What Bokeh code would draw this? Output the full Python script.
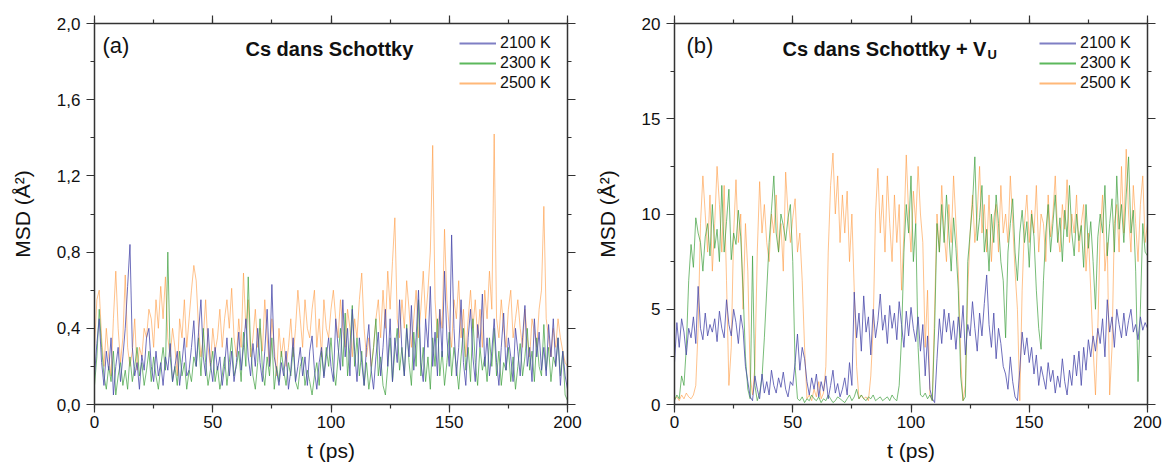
from bokeh.plotting import figure
from bokeh.layouts import row
from bokeh.models import (Range1d, LinearAxis, SingleIntervalTicker, CustomJSTickFormatter,
                          Legend, LegendItem, Label)
from bokeh.embed import file_html
from bokeh.resources import INLINE

t = list(range(0, 201))

labels = ["2100 K", "2300 K", "2500 K"]
colors = ["#4b4bab", "#3fa03f", "#ff9a40"]
legend_colors = ["#7f7fc4", "#5cb85c", "#ffb878"]

# Panel (a): Cs dans Schottky
a_2100 = [0.15, 0.32, 0.45, 0.22, 0.10, 0.28, 0.18, 0.35, 0.05, 0.20,
          0.30, 0.12, 0.25, 0.40, 0.62, 0.84, 0.30, 0.15, 0.22, 0.08,
          0.26, 0.18, 0.35, 0.40, 0.20, 0.12, 0.28, 0.15, 0.22, 0.10,
          0.25, 0.18, 0.32, 0.12, 0.20, 0.28, 0.10, 0.22, 0.35, 0.15,
          0.18, 0.30, 0.44, 0.20, 0.38, 0.55, 0.25, 0.15, 0.40, 0.22,
          0.12, 0.30, 0.18, 0.25, 0.10, 0.20, 0.35, 0.15, 0.28, 0.12,
          0.22, 0.38, 0.18, 0.30, 0.45, 0.25, 0.15, 0.32, 0.20, 0.40,
          0.22, 0.12, 0.28, 0.50, 0.20, 0.63, 0.25, 0.18, 0.10, 0.22,
          0.15, 0.28, 0.08, 0.18, 0.35, 0.12, 0.20, 0.30, 0.15, 0.25,
          0.10, 0.28, 0.36, 0.18, 0.08, 0.22, 0.30, 0.14, 0.25, 0.35,
          0.20, 0.12, 0.45, 0.30, 0.18, 0.55, 0.25, 0.40, 0.15, 0.50,
          0.28, 0.12, 0.35, 0.22, 0.10, 0.30, 0.42, 0.18, 0.08, 0.25,
          0.38, 0.15, 0.30, 0.50, 0.20, 0.45, 0.12, 0.35, 0.22, 0.55,
          0.28, 0.15, 0.40, 0.25, 0.52, 0.18, 0.35, 0.60, 0.22, 0.12,
          0.45, 0.30, 0.62, 0.20, 0.38, 0.15, 0.50, 0.25, 0.70, 0.35,
          0.20, 0.89, 0.40, 0.15, 0.30, 0.55, 0.22, 0.10, 0.35, 0.50,
          0.25, 0.12, 0.42, 0.30, 0.58, 0.20, 0.35, 0.15, 0.28, 0.45,
          0.22, 0.10, 0.30, 0.48, 0.18, 0.35, 0.25, 0.12, 0.40, 0.28,
          0.15, 0.35, 0.52, 0.20, 0.30, 0.12, 0.45, 0.25, 0.38, 0.18,
          0.30, 0.15, 0.42, 0.25, 0.45, 0.20, 0.35, 0.10, 0.28, 0.15,
          0.08]
a_2300 = [0.10, 0.25, 0.50, 0.30, 0.15, 0.08, 0.20, 0.12, 0.28, 0.05,
          0.15, 0.22, 0.10, 0.18, 0.08, 0.25, 0.12, 0.20, 0.30, 0.15,
          0.22, 0.10, 0.18, 0.28, 0.12, 0.25, 0.15, 0.08, 0.20, 0.30,
          0.18, 0.80, 0.25, 0.12, 0.20, 0.10, 0.28, 0.15, 0.22, 0.08,
          0.18, 0.12, 0.25, 0.20, 0.35, 0.15, 0.40, 0.22, 0.10, 0.18,
          0.28, 0.12, 0.20, 0.08, 0.15, 0.25, 0.10, 0.22, 0.35, 0.15,
          0.20, 0.28, 0.12, 0.38, 0.20, 0.67, 0.30, 0.15, 0.08, 0.22,
          0.45, 0.18, 0.10, 0.25, 0.15, 0.35, 0.08, 0.20, 0.12, 0.28,
          0.18, 0.10, 0.22, 0.15, 0.30, 0.12, 0.08, 0.20, 0.25, 0.10,
          0.18, 0.12, 0.05, 0.15, 0.22, 0.10, 0.28, 0.15, 0.30, 0.20,
          0.35, 0.18, 0.10, 0.25, 0.40, 0.20, 0.48, 0.15, 0.30, 0.52,
          0.20, 0.35, 0.15, 0.28, 0.10, 0.22, 0.08, 0.18, 0.30, 0.45,
          0.15, 0.25, 0.10, 0.05, 0.20, 0.35, 0.12, 0.28, 0.40, 0.18,
          0.30, 0.15, 0.42, 0.22, 0.10, 0.38, 0.20, 0.55, 0.15, 0.30,
          0.12, 0.25, 0.08, 0.35, 0.20, 0.45, 0.15, 0.28, 0.10, 0.22,
          0.38, 0.15, 0.30, 0.20, 0.08, 0.25, 0.40, 0.18, 0.30, 0.12,
          0.45, 0.22, 0.10, 0.30, 0.18, 0.25, 0.12, 0.35, 0.20, 0.40,
          0.15, 0.28, 0.10, 0.22, 0.18, 0.30, 0.12, 0.25, 0.08, 0.20,
          0.32, 0.15, 0.25, 0.40, 0.18, 0.28, 0.12, 0.35, 0.20, 0.15,
          0.42, 0.18, 0.30, 0.12, 0.25, 0.20, 0.35, 0.15, 0.28, 0.05,
          0.02]
a_2500 = [0.30, 0.55, 0.60, 0.35, 0.20, 0.40, 0.25, 0.15, 0.45, 0.70,
          0.40, 0.22, 0.35, 0.68, 0.30, 0.20, 0.28, 0.45, 0.18, 0.30,
          0.25, 0.40, 0.35, 0.50, 0.45, 0.30, 0.55, 0.40, 0.62, 0.45,
          0.67, 0.35, 0.25, 0.40, 0.30, 0.15, 0.45, 0.35, 0.55, 0.30,
          0.45, 0.60, 0.73, 0.65, 0.40, 0.25, 0.35, 0.55, 0.30, 0.20,
          0.40, 0.28, 0.35, 0.50, 0.30, 0.45, 0.55, 0.40, 0.61, 0.35,
          0.25, 0.45, 0.30, 0.69, 0.40, 0.55, 0.25, 0.35, 0.50, 0.30,
          0.40, 0.28, 0.55, 0.35, 0.20, 0.45, 0.30, 0.15, 0.40, 0.25,
          0.35, 0.20, 0.30, 0.45, 0.25, 0.40, 0.60, 0.45, 0.30, 0.55,
          0.40, 0.35, 0.50, 0.60, 0.30, 0.45, 0.25, 0.55, 0.40, 0.35,
          0.50, 0.60, 0.45, 0.35, 0.55, 0.40, 0.30, 0.50, 0.40, 0.25,
          0.45, 0.35, 0.55, 0.69, 0.40, 0.25, 0.35, 0.20, 0.30, 0.45,
          0.55, 0.35, 0.60, 0.40, 0.70, 0.50, 0.75, 0.98, 0.45, 0.35,
          0.55, 0.40, 0.65, 0.50, 0.30, 0.45, 0.60, 0.35, 0.50, 0.70,
          0.45, 0.60, 0.80, 1.36, 0.55, 0.35, 0.50, 0.40, 0.92, 0.55,
          0.40, 0.30, 0.55, 0.45, 0.65, 0.35, 0.50, 0.25, 0.45, 0.60,
          0.40, 0.55, 0.35, 0.50, 0.30, 0.60, 0.45, 0.70, 0.50, 1.42,
          0.45, 0.35, 0.55, 0.40, 0.30, 0.50, 0.60, 0.35, 0.45, 0.55,
          0.40, 0.30, 0.50, 0.35, 0.25, 0.45, 0.38, 0.30, 0.50, 0.60,
          1.04, 0.45, 0.35, 0.25, 0.40, 0.30, 0.45, 0.35, 0.28, 0.22,
          0.20]

# Panel (b): Cs dans Schottky + V_U
b_2100 = [2.2, 4.3, 3.0, 4.5, 3.8, 2.6, 4.0, 3.5, 4.6, 3.2,
          6.2, 4.0, 3.4, 4.8, 3.6, 4.2, 3.8, 4.5, 3.3, 4.9,
          4.0, 3.5, 5.5, 4.2, 3.6, 5.0, 4.3, 3.2, 4.7, 3.9,
          2.0, 1.2, 0.4, 0.2, 1.5, 0.8, 0.3, 1.6, 0.6, 1.2,
          0.5, 1.8, 1.0, 0.6, 1.4, 0.9, 1.7, 0.8, 0.4, 1.2,
          1.0, 2.2, 3.7, 1.8, 3.0, 2.4, 1.2, 0.5, 1.4, 0.8,
          1.6, 0.4, 1.2, 0.7, 1.5, 0.3, 1.0, 1.8, 0.6, 1.1,
          0.4, 0.8, 1.4, 0.5, 2.2, 1.0, 5.9, 3.5, 4.8, 2.8,
          5.7, 3.8, 4.6, 2.6, 5.0, 3.5, 4.4, 5.8, 3.9, 4.7,
          3.2, 5.2, 4.0, 4.8, 3.4, 5.4, 4.2, 3.0, 4.9, 3.6,
          5.1, 4.0, 3.3, 4.6, 2.8, 4.2, 1.5, 3.6, 0.8, 0.3,
          0.1, 2.4, 4.5, 3.2, 5.0, 3.8, 4.8, 3.4, 4.4, 2.9,
          4.6, 3.5, 5.2, 2.6, 4.2, 3.6, 5.4, 4.0, 2.8, 4.8,
          3.6, 5.3, 6.8, 4.2, 3.0, 4.8, 2.4, 4.0, 3.2, 2.0,
          1.6, 0.8, 2.5, 1.2, 0.4, 0.2, 1.8, 3.8, 2.6, 3.5,
          2.2, 3.0, 1.6, 2.6, 1.0, 2.0, 1.4, 0.8, 2.2, 1.2,
          1.8, 0.6, 1.5, 0.9, 2.4, 1.2, 0.5, 1.8, 1.0, 2.6,
          1.5, 2.8, 1.0, 3.0, 1.8, 3.4, 2.5, 3.6, 2.8, 4.0,
          3.2, 4.5, 2.5, 5.5, 3.8, 4.6, 3.0, 5.0, 4.2, 3.5,
          4.8, 3.6, 4.4, 5.0, 3.8, 4.2, 3.4, 4.6, 3.9, 4.3,
          4.0]
b_2300 = [0.2, 0.5, 0.3, 1.5, 1.0, 3.0, 6.5, 8.4, 7.2, 9.8,
          9.0, 8.5, 7.0, 8.8, 9.5, 7.8, 10.5, 8.2, 9.2, 7.5,
          11.5, 8.0, 9.6, 11.3, 7.6, 9.0, 8.4, 10.2, 8.8, 6.0,
          2.5, 0.8, 0.3, 7.8, 1.0, 0.2, 0.6, 1.4, 3.5, 6.0,
          8.5, 10.2, 12.0, 9.0, 8.0, 10.0, 9.4, 8.6, 9.8, 10.5,
          7.5, 2.0, 0.3, 0.2, 0.4, 0.1, 0.3, 0.2, 0.5, 0.3,
          0.2, 0.4, 0.1, 0.3, 0.2, 0.5, 0.3, 0.1, 0.2, 0.4,
          0.3, 0.2, 0.1, 0.3, 0.5, 0.2, 0.4, 0.8, 0.3, 0.5,
          0.3, 0.2, 0.4, 0.3, 0.5, 0.2, 0.3, 0.4, 0.2, 0.3,
          0.4, 0.2, 0.5, 0.3, 0.2, 1.0, 3.5, 8.0, 10.5, 9.0,
          12.0, 7.5, 9.5, 3.0, 0.5, 0.4, 0.6, 0.3, 0.5, 0.2,
          4.0, 9.5, 8.0, 10.5, 8.5, 11.0, 9.0, 7.0, 9.8, 8.2,
          6.0, 1.5, 0.2, 0.4, 7.5, 9.0, 10.5, 13.0, 8.6, 9.8,
          11.5, 8.0, 9.2, 7.0, 10.0, 8.5, 11.0, 9.5, 7.5, 6.5,
          3.5, 8.0, 9.5, 10.8, 8.0, 6.5, 9.0, 10.2, 8.5, 9.6,
          7.2, 10.0, 8.8, 6.0, 4.0, 2.9, 6.5, 9.0, 10.5, 8.0,
          9.5, 11.0, 8.5, 9.8, 7.5, 10.2, 8.8, 11.5, 9.0, 7.8,
          10.0, 8.6, 9.4, 7.2, 10.5, 8.2, 9.6, 7.5, 5.0, 8.8,
          10.0, 9.0, 11.5, 7.8, 9.5, 10.8, 8.0, 12.0, 9.2, 10.5,
          8.5, 11.0, 13.0, 9.0, 10.2, 7.0, 1.2, 5.0, 9.5, 8.0,
          7.8]
b_2500 = [0.3, 0.4, 0.2, 0.5, 0.3, 0.6, 0.4, 0.3, 0.5, 1.0,
          4.0, 9.5, 12.0, 10.0, 8.0, 11.0, 7.0, 9.5, 12.5, 10.5,
          8.0, 11.5, 6.5, 1.0, 3.0, 9.0, 11.8, 8.5, 10.0, 5.0,
          9.5, 7.0, 1.5, 0.5, 2.0, 8.0, 11.7, 9.0, 10.5, 8.5,
          7.5, 10.0, 9.0, 11.0, 8.0, 9.5, 7.0, 12.2, 10.0, 8.5,
          9.8, 10.8, 8.0, 9.0, 6.5, 3.0, 0.3, 0.5, 0.2, 0.8,
          0.4, 1.2, 0.3, 0.6, 2.0, 8.0, 11.5, 13.2, 10.0, 12.0,
          8.5, 11.0, 9.0, 11.2, 7.5, 10.0, 6.0, 2.0, 0.3, 0.5,
          0.3, 0.4, 0.2, 1.5, 4.0, 10.0, 12.4, 9.0, 11.0, 8.0,
          12.0, 9.5, 7.5, 11.0, 8.5, 10.5, 6.0, 9.0, 13.1, 10.0,
          8.0, 11.2, 9.5, 12.5, 10.0, 8.5, 3.0, 6.0, 0.5, 0.2,
          5.0, 10.0, 8.0, 11.5, 9.0, 7.5, 10.5, 8.5, 12.0, 9.5,
          7.0, 2.5, 0.2, 1.0, 6.0, 9.0, 11.0, 8.5, 10.0, 12.5,
          9.0, 10.5, 8.0, 11.0, 7.5, 9.8, 10.5, 8.0, 11.5, 9.0,
          10.0, 8.5, 12.0, 9.5, 7.0, 5.0, 0.2, 6.0, 9.5, 11.0,
          8.5, 10.2, 9.0, 11.5, 8.0, 10.0, 9.5, 7.5, 11.0, 8.8,
          10.0, 12.0, 9.0, 8.0, 10.5, 9.2, 11.8, 8.5, 10.0, 9.0,
          11.0, 8.0, 9.5, 10.5, 7.0, 9.0, 6.0, 3.0, 0.5, 4.0,
          9.0, 11.0, 7.0, 8.5, 0.5, 3.0, 9.5, 10.5, 8.0, 12.5,
          9.0, 13.4, 10.0, 8.0, 11.5, 9.5, 7.5, 10.5, 12.0, 8.5,
          9.5]

FONT = "Liberation Sans"
AXIS_COLOR = "#333333"
NAN = float("nan")


def style_axis(ax, show_labels=True):
    ax.axis_line_color = AXIS_COLOR
    ax.axis_line_width = 1.5
    ax.major_tick_line_color = AXIS_COLOR
    ax.minor_tick_line_color = AXIS_COLOR
    ax.major_tick_line_width = 1.2
    ax.minor_tick_line_width = 1.2
    ax.major_tick_out = 8
    ax.major_tick_in = 0
    ax.minor_tick_out = 4
    ax.minor_tick_in = 0
    ax.major_label_text_font = FONT
    ax.major_label_text_color = "#111111"
    ax.axis_label_text_font = FONT
    ax.axis_label_text_font_style = "normal"
    ax.axis_label_text_color = "#111111"
    ax.major_label_text_font_size = "17px"
    ax.axis_label_text_font_size = "21px"
    if not show_labels:
        ax.formatter = CustomJSTickFormatter(code="return '';")
        ax.major_label_standoff = 0


def make_panel(series, ymax, yint, tag, title, sub, width, left, right, tag_x, title_x):
    p = figure(width=width, height=471, output_backend="svg", toolbar_location=None,
               x_range=Range1d(0, 200), y_range=Range1d(0, ymax),
               min_border_left=left, min_border_right=right,
               min_border_top=23, min_border_bottom=67,
               x_axis_label="t (ps)", y_axis_label="MSD (Å²)")
    p.grid.visible = False
    p.outline_line_color = None
    p.background_fill_color = "white"
    p.border_fill_color = "white"

    fmt_y = CustomJSTickFormatter(code="return tick.toFixed(%d).replace('.', ',');" % (1 if ymax < 5 else 0))
    fmt_x = CustomJSTickFormatter(code="return tick.toFixed(0);")

    p.xaxis.ticker = SingleIntervalTicker(interval=50, num_minor_ticks=2)
    p.yaxis.ticker = SingleIntervalTicker(interval=yint, num_minor_ticks=2)
    p.xaxis.formatter = fmt_x
    p.yaxis.formatter = fmt_y
    for ax in p.xaxis:
        style_axis(ax)
        ax.major_label_standoff = 3
        ax.axis_label_standoff = 8
    for ax in p.yaxis:
        style_axis(ax)
        ax.major_label_standoff = 6
        ax.axis_label_standoff = 20

    top = LinearAxis(ticker=SingleIntervalTicker(interval=50, num_minor_ticks=2))
    style_axis(top, show_labels=False)
    p.add_layout(top, "above")
    rgt = LinearAxis(ticker=SingleIntervalTicker(interval=yint, num_minor_ticks=2))
    style_axis(rgt, show_labels=False)
    p.add_layout(rgt, "right")

    alphas = [0.8, 0.7, 0.6]
    order = [2, 1, 0]
    for i in order:
        p.line(t, series[i], line_color=colors[i], line_width=1, line_alpha=alphas[i])

    # legend sample renderers: NaN data, so nothing is drawn in the plot area
    leg_r = [p.line([NAN, NAN], [NAN, NAN], line_color=legend_colors[i], line_width=2)
             for i in range(3)]
    items = [LegendItem(label=labels[i], renderers=[leg_r[i]]) for i in range(3)]
    leg = Legend(items=items, location=(365, 311), orientation="vertical",
                 glyph_width=37, glyph_height=20, label_height=20, label_standoff=4,
                 spacing=0, padding=0, margin=0, border_line_color=None,
                 background_fill_alpha=0, label_text_font=FONT, label_text_font_size="16px",
                 label_text_color="#111111")
    p.add_layout(leg)

    p.add_layout(Label(x=tag_x * 200 / 473, y=ymax * (404 - 45) / 381, text=tag,
                       text_font=FONT, text_font_size="22px", text_baseline="middle",
                       text_color="#111111"))
    p.add_layout(Label(x=title_x * 200 / 473, y=ymax * (404 - 48) / 381, text=title,
                       text_font=FONT, text_font_size="20px", text_font_style="bold",
                       text_baseline="middle", text_color="#111111"))
    if sub:
        p.add_layout(Label(x=(title_x + 205) * 200 / 473, y=ymax * (404 - 54) / 381, text=sub,
                           text_font=FONT, text_font_size="13px", text_font_style="bold",
                           text_baseline="middle", text_color="#111111"))
    return p


pa = make_panel([a_2100, a_2300, a_2500], 2.0, 0.4, "(a)", "Cs dans Schottky", None,
                582, 94, 15, 8, 151)
pb = make_panel([b_2100, b_2300, b_2500], 20, 5, "(b)", "Cs dans Schottky + V", "U",
                581, 92, 16, 12, 108)

layout = row(pa, pb)
open("out.html", "w").write(file_html(layout, INLINE))
